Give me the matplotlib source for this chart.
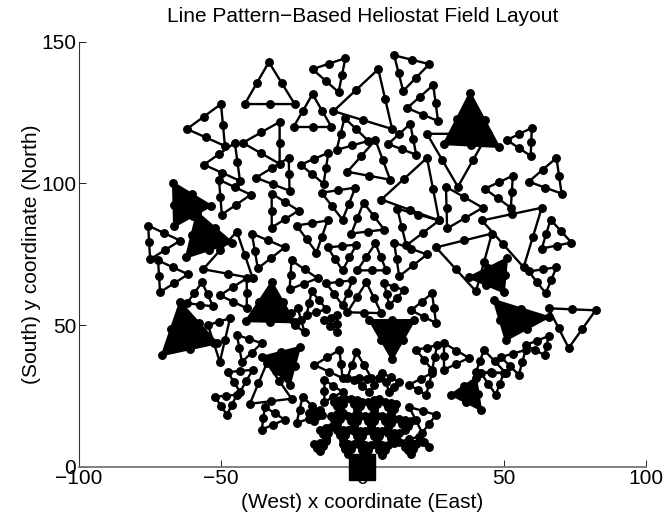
import numpy as np
import matplotlib.pyplot as plt

plt.rcParams['font.family'] = ['Liberation Sans', 'DejaVu Sans']

# heliostat groups, three corners each (m); a heliostat sits on every corner and mid-edge
open_tri = [
    [(-33.0, 142.8), (-41.5, 128.0), (-23.9, 128.0)],
    [(-61.9, 119.2), (-49.9, 128.0), (-48.5, 113.2)],
    [(-42.2, 114.3), (-29.2, 121.7), (-29.2, 106.9)],
    [(-45.0, 114.3), (-55.9, 106.6), (-43.2, 100.9)],
    [(-37.6, 102.0), (-26.0, 109.0), (-25.7, 97.4)],
    [(-17.6, 140.3), (-6.0, 144.2), (-8.4, 132.2)],
    [(11.2, 145.2), (23.6, 142.1), (14.4, 132.6)],
    [(-10.2, 125.5), (5.6, 140.3), (10.5, 119.2)],
    [(-17.6, 131.5), (-24.3, 119.9), (-10.9, 119.9)],
    [(15.8, 126.6), (25.0, 134.7), (26.7, 122.0)],
    [(-6.3, 123.1), (-9.1, 111.8), (2.1, 115.0)],
    [(9.1, 113.9), (16.9, 121.0), (19.0, 110.1)],
    [(4.6, 115.3), (-5.3, 104.1), (9.8, 101.3)],
    [(-21.8, 106.6), (-12.0, 110.8), (-13.7, 99.9)],
    [(22.8, 117.5), (44.3, 117.5), (33.7, 98.8)],
    [(51.0, 115.3), (59.8, 119.6), (59.4, 109.7)],
    [(58.7, 100.6), (68.5, 109.0), (70.3, 96.4)],
    [(43.2, 98.1), (53.1, 102.7), (52.4, 91.4)],
    [(-75.6, 85.1), (-74.9, 73.2), (-64.3, 79.8)],
    [(-72.1, 72.8), (-71.4, 61.6), (-61.5, 67.9)],
    [(-50.6, 101.3), (-49.6, 89.0), (-39.4, 96.0)],
    [(-32.0, 96.4), (-32.0, 84.4), (-22.5, 90.4)],
    [(-39.0, 82.3), (-36.9, 70.0), (-27.4, 77.4)],
    [(-44.3, 83.0), (-56.2, 69.7), (-38.7, 66.5)],
    [(-56.6, 65.1), (-61.9, 57.7), (-52.7, 56.6)],
    [(-40.8, 66.5), (-50.3, 60.5), (-40.8, 55.9)],
    [(-54.5, 50.0), (-46.7, 52.4), (-50.3, 37.0)],
    [(-14.4, 96.7), (-7.0, 87.2), (-2.5, 98.5)],
    [(0.4, 93.2), (-3.9, 82.3), (7.7, 83.7)],
    [(22.8, 109.0), (6.7, 94.3), (27.1, 86.9)],
    [(-23.2, 85.1), (-16.2, 75.6), (-12.3, 86.9)],
    [(-12.3, 77.4), (-7.0, 69.3), (-2.1, 78.4)],
    [(4.6, 78.8), (-1.8, 69.3), (8.4, 69.3)],
    [(11.2, 79.1), (13.0, 67.2), (22.8, 74.9)],
    [(12.3, 91.1), (15.5, 78.1), (27.1, 86.9)],
    [(-25.0, 72.8), (-25.7, 62.6), (-15.8, 66.5)],
    [(-12.7, 64.7), (-7.0, 57.0), (-3.5, 65.8)],
    [(1.4, 65.1), (-5.3, 54.5), (6.7, 54.2)],
    [(7.7, 64.7), (9.5, 57.0), (14.8, 62.3)],
    [(-17.9, 61.9), (-19.7, 53.5), (-12.7, 55.6)],
    [(-22.8, 55.9), (-20.4, 47.5), (-27.4, 52.4)],
    [(-13.4, 51.7), (-8.8, 53.5), (-9.1, 47.5)],
    [(17.2, 55.2), (24.6, 61.2), (26.0, 50.7)],
    [(29.5, 98.8), (29.9, 84.1), (42.5, 91.4)],
    [(42.2, 86.9), (63.3, 91.4), (56.9, 70.4)],
    [(66.4, 87.2), (63.3, 77.0), (73.8, 79.1)],
    [(26.0, 77.4), (45.7, 82.3), (40.1, 61.9)],
    [(58.7, 68.9), (68.5, 70.4), (64.7, 61.2)],
    [(65.7, 55.9), (82.3, 55.2), (72.8, 41.9)],
    [(42.9, 41.2), (40.1, 33.4), (50.6, 33.1)],
    [(48.9, 38.7), (57.6, 41.2), (55.2, 32.4)],
    [(41.8, 33.1), (49.9, 33.1), (47.1, 25.4)],
    [(57.6, 42.9), (64.3, 39.4), (65.7, 46.1)],
    [(28.8, 43.6), (37.6, 38.4), (28.8, 34.2)],
    [(-44.3, 46.5), (-42.5, 37.0), (-35.5, 43.6)],
    [(-47.5, 33.4), (-38.7, 34.2), (-43.2, 26.4)],
    [(-52.0, 24.7), (-44.3, 25.4), (-47.8, 18.3)],
    [(-33.7, 36.6), (-39.7, 22.2), (-25.0, 24.0)],
    [(-34.4, 21.1), (-35.5, 13.1), (-27.4, 16.6)],
    [(-16.9, 35.9), (-8.1, 41.2), (-7.0, 31.3)],
    [(-2.1, 40.5), (-5.3, 31.3), (3.2, 31.3)],
    [(19.0, 41.2), (26.4, 42.9), (24.6, 34.2)],
    [(-13.4, 30.6), (-13.4, 22.9), (-7.0, 26.4)],
    [(-2.8, 30.6), (2.5, 26.4), (6.0, 31.3)],
    [(16.5, 28.9), (24.6, 33.1), (22.5, 25.4)],
    [(-21.1, 24.7), (-23.2, 15.5), (-14.4, 18.3)],
    [(7.0, 33.1), (9.5, 26.4), (13.0, 29.9)],
    [(16.5, 21.1), (26.0, 18.3), (21.1, 12.0)],
    [(13.0, 8.8), (20.0, 10.6), (23.6, 7.1)],
]

# small groups packed close to the tower
core_tri = [
    [(-10, 23), (-6, 24), (-8, 20)],
    [(-4, 24), (0, 23), (-2, 20)],
    [(2, 23), (6, 24), (4, 20)],
    [(8, 23), (12, 22), (10, 19)],
    [(-11, 18), (-7, 19), (-9, 15)],
    [(-5, 18), (-1, 18), (-3, 14.5)],
    [(1, 18), (5, 18), (3, 14.5)],
    [(7, 18), (11, 17), (9, 14)],
    [(-9, 13), (-5, 13), (-7, 9.5)],
    [(-3, 12.5), (1, 12.5), (-1, 9)],
    [(3, 12.5), (7, 12.5), (5, 9)],
    [(9, 12), (13, 12), (11, 8.5)],
    [(-7, 8), (-3, 8), (-5, 4.5)],
    [(-1, 7.5), (3, 7.5), (1, 4)],
    [(5, 7.5), (9, 7.5), (7, 4)],
    [(13, 17), (17, 16), (15, 13)],
    [(-15, 13), (-11, 14), (-13, 10)],
    [(15, 7), (19, 8), (17, 4.5)],
    [(-19, 19), (-15, 20), (-17, 16)],
    [(-17, 8), (-13, 9), (-15, 5.5)],
]

# groups drawn solid
solid_tri = [
    [(-66.8, 100.2), (-53.4, 92.1), (-66.4, 84.8)],
    [(38.0, 131.9), (28.8, 113.9), (48.2, 112.9)],
    [(-58.3, 89.7), (-62.2, 73.9), (-46.0, 79.1)],
    [(-32.0, 65.1), (-41.1, 51.4), (-23.9, 51.0)],
    [(-64.3, 58.1), (-70.7, 39.4), (-51.3, 43.6)],
    [(2.5, 51.7), (18.3, 51.7), (10.5, 38.0)],
    [(37.6, 66.8), (51.0, 73.5), (49.9, 61.6)],
    [(46.4, 58.8), (65.7, 52.8), (50.6, 44.7)],
    [(31.3, 25.4), (40.1, 31.3), (41.8, 20.1)],
    [(-35.5, 38.7), (-22.1, 42.2), (-25.7, 28.9)],
]

tower_x, tower_y = 0, 0

x_ticks = [-100, -50, 0, 50, 100]
y_ticks = [0, 50, 100, 150]


def draw_triangle(ax, verts, filled=False):
    v = np.array(verts, dtype=float)
    mids = (v + np.roll(v, -1, axis=0)) / 2
    ring = np.vstack([v, v[:1]])
    if filled:
        ax.fill(v[:, 0], v[:, 1], color='k', lw=0)
    ax.plot(ring[:, 0], ring[:, 1], '-', color='k', lw=1.7)
    pts = np.vstack([v, mids])
    ax.plot(pts[:, 0], pts[:, 1], 'o', color='k', ms=5.4, lw=0)


fig = plt.figure(figsize=(6.64, 5.17), dpi=100)
ax = fig.add_axes([0.119, 0.0973, 0.8535, 0.822])

for t in open_tri + core_tri:
    draw_triangle(ax, t)
for t in solid_tri:
    draw_triangle(ax, t, filled=True)

ax.plot(tower_x, tower_y, 's', color='k', ms=18.5, clip_on=False, zorder=5)

ax.set_xlim(-100, 100)
ax.set_ylim(0, 150)
ax.set_xticks(x_ticks)
ax.set_yticks(y_ticks)
ax.tick_params(direction='in', length=5, labelsize=15, width=0.6, pad=2)
for s in ['top', 'right']:
    ax.spines[s].set_visible(False)
ax.spines['bottom'].set_color('#777777')
ax.spines['bottom'].set_linewidth(1.3)
ax.spines['left'].set_color('#333333')
ax.spines['left'].set_linewidth(0.8)

ax.set_title('Line Pattern\u2212Based Heliostat Field Layout', fontsize=15, pad=14)
ax.set_xlabel('(West) x coordinate (East)', fontsize=15, labelpad=3)
ax.set_ylabel('(South) y coordinate (North)', fontsize=15, labelpad=0)

fig.savefig('out.png', dpi=100)
